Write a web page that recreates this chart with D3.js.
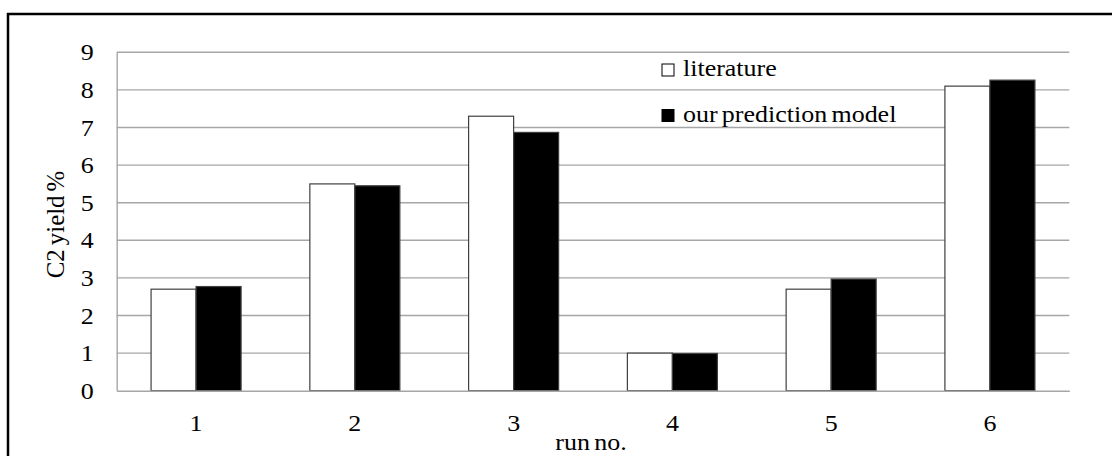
<!DOCTYPE html>
<html>
<head>
<meta charset="utf-8">
<script src="https://cdn.jsdelivr.net/npm/d3@7"></script>
<style>
  html, body { margin: 0; padding: 0; background: #fff; }
  svg { display: block; }
</style>
</head>
<body>
<svg id="chart" width="1112" height="456"></svg>
<script>
const categories = ["1", "2", "3", "4", "5", "6"];
const seriesNames = ["literature", "our prediction model"];
const literature = [2.7, 5.5, 7.3, 1.0, 2.7, 8.1];
const predictionModel = [2.77, 5.45, 6.87, 0.99, 2.97, 8.26];
const yTicks = [0, 1, 2, 3, 4, 5, 6, 7, 8, 9];
const xTitle = "run no.";
const yTitle = "C2 yield %";

const FONT = "Liberation Serif";
const SX = 1.13; // horizontal stretch of the text in the original picture
const svg = d3.select("#chart");
const W = 1112, H = 456;
const m = { left: 116.7, right: 1069.3, top: 52.3, bottom: 390.7 };

// outer frame (left + top edges visible)
svg.append("line").attr("x1", 8).attr("x2", 8).attr("y1", 13).attr("y2", H)
  .attr("stroke", "#000").attr("stroke-width", 2.5);
svg.append("line").attr("x1", 7).attr("x2", W).attr("y1", 14).attr("y2", 14)
  .attr("stroke", "#000").attr("stroke-width", 2.5);

const x = d3.scaleBand().domain(categories).range([m.left, m.right])
  .paddingInner(0.433).paddingOuter(0.2165);
const xs = d3.scaleBand().domain(seriesNames).range([0, x.bandwidth()]).padding(0);
const y = d3.scaleLinear().domain([0, 9]).range([m.bottom, m.top]);

// gridlines
svg.append("g").selectAll("line").data(yTicks.filter(d => d > 0)).join("line")
  .attr("x1", m.left).attr("x2", m.right)
  .attr("y1", d => y(d)).attr("y2", d => y(d))
  .attr("stroke", "#a6a6a6").attr("stroke-width", 1.4);

// y axis
const yAxis = svg.append("g").attr("transform", `translate(${m.left},0)`)
  .call(d3.axisLeft(y).tickValues(yTicks).tickSize(0).tickPadding(23));
yAxis.attr("font-family", FONT).attr("font-size", 23);
yAxis.select(".domain").attr("stroke", "#a6a6a6").attr("stroke-width", 1.4);
yAxis.selectAll(".tick text").attr("x", 0).attr("dy", "0.33em").attr("fill", "#000")
  .attr("transform", `translate(-23,0) scale(${SX},1)`);

// bars
const data = categories.map((c, i) => ({ c, vals: [literature[i], predictionModel[i]] }));
const groups = svg.append("g").selectAll("g").data(data).join("g")
  .attr("transform", d => `translate(${x(d.c)},0)`);
groups.selectAll("rect").data(d => d.vals.map((v, k) => ({ v, s: seriesNames[k] }))).join("rect")
  .attr("x", d => xs(d.s))
  .attr("width", xs.bandwidth())
  .attr("y", d => y(d.v))
  .attr("height", d => y(0) - y(d.v))
  .attr("fill", d => d.s === seriesNames[0] ? "#fff" : "#000")
  .attr("stroke", "#404040").attr("stroke-width", 1.2);

// x axis
const xAxis = svg.append("g").attr("transform", `translate(0,${m.bottom})`)
  .call(d3.axisBottom(x).tickSize(0).tickPadding(24));
xAxis.attr("font-family", FONT).attr("font-size", 23);
xAxis.select(".domain").attr("stroke", "#a6a6a6").attr("stroke-width", 1.6);
xAxis.selectAll(".tick text").attr("fill", "#000").attr("transform", `scale(${SX},1)`)
  .attr("x", 0);

// axis titles
svg.append("text")
  .attr("transform", `translate(${(m.left + m.right) / 2 - 2},450) scale(${SX},1)`)
  .attr("text-anchor", "middle").attr("font-family", FONT).attr("font-size", 23)
  .attr("word-spacing", "-2").text(xTitle);
svg.append("text").attr("transform", `translate(64,${(m.top + m.bottom) / 2 + 3}) rotate(-90) scale(1.08,${SX})`)
  .attr("text-anchor", "middle").attr("font-family", FONT).attr("font-size", 23)
  .attr("word-spacing", "-2").text(yTitle);

// legend
const legend = svg.append("g");
const legendY = [76, 121.5];
seriesNames.forEach((name, k) => {
  legend.append("rect").attr("x", 662).attr("y", legendY[k] - 12).attr("width", 12).attr("height", 12)
    .attr("fill", k === 0 ? "#fff" : "#000").attr("stroke", "#000").attr("stroke-width", 1);
  legend.append("text").attr("transform", `translate(683,${legendY[k]}) scale(${SX},1)`)
    .attr("font-family", FONT).attr("font-size", 23)
    .attr("word-spacing", "-2").text(name);
});
</script>
</body>
</html>
